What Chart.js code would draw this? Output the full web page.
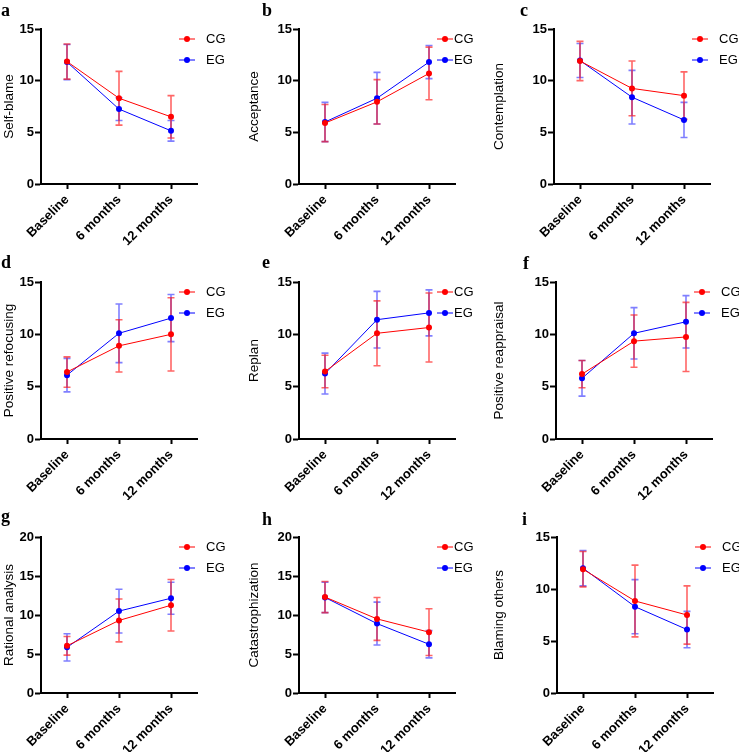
<!DOCTYPE html>
<html lang="en">
<head>
<meta charset="UTF-8">
<title>Cognitive emotion regulation over time</title>
<script src="https://cdn.jsdelivr.net/npm/chart.js"></script>
<style>
  html, body { margin: 0; padding: 0; background: #fff; }
  #grid { position: relative; width: 739px; height: 752px; }
  canvas { position: absolute; }
</style>
</head>
<body>
<div id="grid"></div>
<script>
const timepoints = ['Baseline', '6 months', '12 months'];
const groupNames = ['CG', 'EG'];
const panelLetters = ['a', 'b', 'c', 'd', 'e', 'f', 'g', 'h', 'i'];
const outcomes = ['Self-blame', 'Acceptance', 'Contemplation', 'Positive refocusing', 'Replan',
                  'Positive reappraisal', 'Rational analysis', 'Catastrophization', 'Blaming others'];
const yMax = [15, 15, 15, 15, 15, 15, 20, 20, 15];
const yStep = 5;

// mean and SD per panel (rows follow panelLetters)
const cgMean = [
  [11.85, 8.3, 6.5],
  [5.9, 7.95, 10.7],
  [11.9, 9.25, 8.55],
  [6.4, 8.9, 10.0],
  [6.45, 10.1, 10.65],
  [6.2, 9.35, 9.75],
  [6.05, 9.3, 11.25],
  [12.3, 9.5, 7.8],
  [11.9, 8.85, 7.5]
];
const cgSD = [
  [1.7, 2.6, 2.05],
  [1.8, 2.15, 2.55],
  [1.9, 2.65, 2.3],
  [1.45, 2.5, 3.5],
  [1.55, 3.1, 3.3],
  [1.3, 2.5, 3.3],
  [1.2, 2.75, 3.3],
  [2.0, 2.75, 3.0],
  [1.7, 3.45, 2.8]
];
const egMean = [
  [11.8, 7.25, 5.15],
  [6.0, 8.3, 11.8],
  [11.95, 8.4, 6.2],
  [6.1, 10.1, 11.55],
  [6.25, 11.4, 12.05],
  [5.8, 10.1, 11.2],
  [5.85, 10.5, 12.15],
  [12.25, 8.9, 6.25],
  [12.0, 8.3, 6.1]
];
const egSD = [
  [1.7, 1.1, 1.0],
  [1.9, 2.5, 1.6],
  [1.65, 2.6, 1.7],
  [1.6, 2.8, 2.25],
  [1.95, 2.7, 2.2],
  [1.7, 2.45, 2.5],
  [1.75, 2.8, 2.05],
  [1.95, 2.75, 1.75],
  [1.7, 2.6, 1.75]
];

// layout of the 3x3 grid
const cellX = [0, 245, 490];
const cellY = [0, 250, 500];
const cellW = [245, 245, 249];
const cellH = [250, 250, 252];
const plotLeft = [41, 54, 64, 41, 54, 66, 41, 54, 67];
const plotTop = [29, 32, 37];
const plotBottom = [184, 189, 193];
const plotWidth = 156;
const letterPos = [[1, 16], [17, 16], [30, 16], [1, 18], [17, 18], [33, 19], [1, 22], [17, 25], [32, 25]];
const legendTextGap = [27, 17, 27];

const RED = '#ff0000', BLUE = '#0000ff';
const RED_BAR = 'rgba(255,0,0,0.6)', BLUE_BAR = 'rgba(0,0,255,0.5)';
const SANS = "'Liberation Sans', Arial, sans-serif";

// error bars under the lines, legend and panel letter on top
const panelExtras = {
  id: 'panelExtras',
  beforeDatasetsDraw(chart) {
    const { ctx, scales: { x, y } } = chart;
    [1, 0].forEach(di => {
      const ds = chart.data.datasets[di];
      ctx.save();
      ctx.strokeStyle = ds.barColor;
      ctx.lineWidth = 1.6;
      ds.data.forEach((v, k) => {
        const px = x.getPixelForValue(k);
        const top = y.getPixelForValue(v + ds.sd[k]);
        const bot = y.getPixelForValue(v - ds.sd[k]);
        ctx.beginPath();
        ctx.moveTo(px, top); ctx.lineTo(px, bot);
        ctx.moveTo(px - 3.5, top); ctx.lineTo(px + 3.5, top);
        ctx.moveTo(px - 3.5, bot); ctx.lineTo(px + 3.5, bot);
        ctx.stroke();
      });
      ctx.restore();
    });
  },
  afterDraw(chart, args, opts) {
    const { ctx, chartArea } = chart;
    ctx.save();
    chart.data.datasets.forEach((ds, i) => {
      const ly = chartArea.top + 10 + 21 * i;
      const lx = chartArea.right - 18;
      ctx.strokeStyle = ds.borderColor;
      ctx.lineWidth = 1;
      ctx.beginPath();
      ctx.moveTo(lx, ly); ctx.lineTo(lx + 16, ly);
      ctx.stroke();
      ctx.fillStyle = ds.borderColor;
      ctx.beginPath();
      ctx.arc(lx + 8, ly, 3, 0, Math.PI * 2);
      ctx.fill();
      ctx.fillStyle = '#000';
      ctx.font = '13px ' + SANS;
      ctx.textBaseline = 'middle';
      ctx.fillText(ds.label, lx + opts.gap, ly + 0.5);
    });
    ctx.font = "bold 18px 'Liberation Serif', 'Times New Roman', serif";
    ctx.textBaseline = 'alphabetic';
    ctx.fillStyle = '#000';
    ctx.fillText(opts.letter, opts.pos[0], opts.pos[1]);
    ctx.restore();
  }
};

const grid = document.getElementById('grid');

panelLetters.forEach((letter, i) => {
  const row = Math.floor(i / 3), col = i % 3;
  const W = cellW[col], H = cellH[row];
  const canvas = document.createElement('canvas');
  canvas.width = W;
  canvas.height = H;
  canvas.style.left = cellX[col] + 'px';
  canvas.style.top = cellY[row] + 'px';
  canvas.style.width = W + 'px';
  canvas.style.height = H + 'px';
  grid.appendChild(canvas);

  new Chart(canvas.getContext('2d'), {
    type: 'line',
    data: {
      labels: timepoints,
      datasets: [
        {
          label: groupNames[0], data: cgMean[i], sd: cgSD[i], barColor: RED_BAR,
          borderColor: RED, backgroundColor: RED, borderWidth: 1,
          pointRadius: 3, pointBorderWidth: 0, pointHoverRadius: 3
        },
        {
          label: groupNames[1], data: egMean[i], sd: egSD[i], barColor: BLUE_BAR,
          borderColor: BLUE, backgroundColor: BLUE, borderWidth: 1,
          pointRadius: 3, pointBorderWidth: 0, pointHoverRadius: 3
        }
      ]
    },
    options: {
      responsive: false,
      animation: false,
      events: [],
      layout: {
        padding: { top: plotTop[row], left: 0, bottom: 0, right: W - plotLeft[i] - plotWidth }
      },
      plugins: {
        legend: { display: false },
        tooltip: { enabled: false },
        panelExtras: { letter: letter, pos: letterPos[i], gap: legendTextGap[col] }
      },
      scales: {
        x: {
          type: 'category',
          offset: true,
          afterFit: s => { s.height = H - plotBottom[row]; },
          grid: {
            display: true, drawOnChartArea: false, drawTicks: true, offset: false,
            tickLength: 5, tickWidth: 2, tickColor: '#000'
          },
          border: { display: true, color: '#000', width: 2 },
          ticks: {
            color: '#000', autoSkip: false, maxRotation: 45, minRotation: 45, padding: 3,
            font: { family: SANS, weight: 'bold', size: 13 }
          }
        },
        y: {
          min: 0,
          max: yMax[i],
          afterFit: s => { s.width = plotLeft[i]; },
          grid: {
            display: true, drawOnChartArea: false, drawTicks: true,
            tickLength: 6, tickWidth: 2, tickColor: '#000'
          },
          border: { display: true, color: '#000', width: 2 },
          ticks: {
            stepSize: yStep, color: '#000', padding: 1,
            font: { family: SANS, weight: 'bold', size: 13 }
          },
          title: {
            display: true, text: outcomes[i], color: '#000',
            padding: { top: 1, bottom: 2 },
            font: { family: SANS, size: 13.5 }
          }
        }
      }
    },
    plugins: [panelExtras]
  });
});
</script>
</body>
</html>
